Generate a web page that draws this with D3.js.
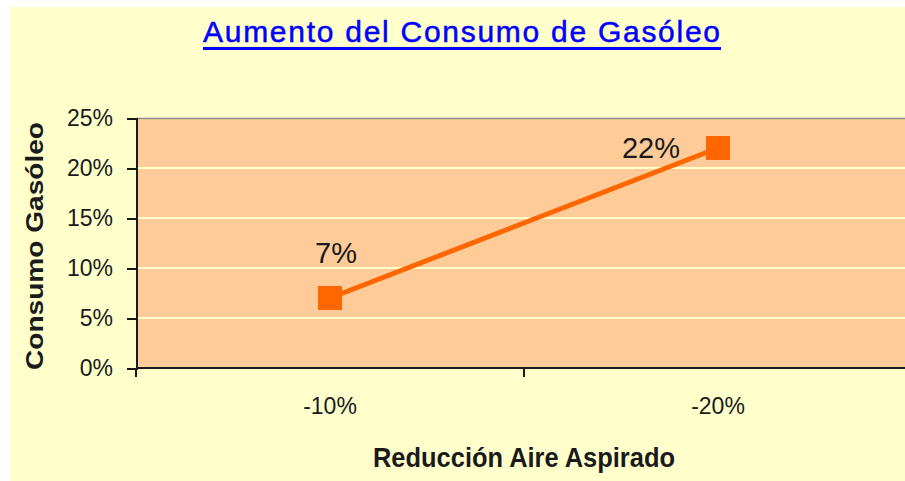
<!DOCTYPE html>
<html lang="es">
<meta charset="utf-8">
<style>
body { margin: 0; background: #fff; }
text { font-family: "Liberation Sans", Arial, sans-serif; fill: #1a1a1a; }
.axis path, .axis line { stroke: #1a1a1a; stroke-width: 2; shape-rendering: crispEdges; }
</style>
<body>
<script src="https://d3js.org/d3.v7.min.js"></script>
<script>
// Data
var categories = ["-10%", "-20%"];
var consumo = [0.07, 0.22];
var yTicks = [0, 0.05, 0.10, 0.15, 0.20, 0.25];
var title = "Aumento del Consumo de Gasóleo";
var xTitle = "Reducción Aire Aspirado";
var yTitle = "Consumo Gasóleo";

var w = 905, h = 481;
var plotLeft = 136, plotTop = 118, plotBottom = 368;

var svg = d3.select("body").append("svg")
  .attr("width", w).attr("height", h);

// chart background
svg.append("rect")
  .attr("x", 10).attr("y", 7)
  .attr("width", w - 10).attr("height", h - 7)
  .attr("fill", "#FFFFCC");

var xScale = d3.scaleBand()
  .domain(categories)
  .range([plotLeft, plotLeft + 776]);

var yScale = d3.scaleLinear()
  .domain([0, 0.25])
  .range([plotBottom, plotTop]);

// plot area
svg.append("rect")
  .attr("x", plotLeft).attr("y", plotTop)
  .attr("width", w - plotLeft).attr("height", plotBottom - plotTop)
  .attr("fill", "#FFCC99");

svg.append("line")
  .attr("x1", plotLeft).attr("x2", w)
  .attr("y1", plotTop + 0.5).attr("y2", plotTop + 0.5)
  .attr("stroke", "#8c8c8c").attr("stroke-width", 1.5);

// gridlines
svg.append("g").selectAll("line")
  .data(yTicks.slice(1, -1))
  .enter().append("line")
  .attr("x1", plotLeft).attr("x2", w)
  .attr("y1", function(d) { return yScale(d); })
  .attr("y2", function(d) { return yScale(d); })
  .attr("stroke", "#FFFFCC")
  .attr("stroke-width", 2);

// y axis
var yAxis = svg.append("g")
  .attr("class", "axis")
  .attr("transform", "translate(" + plotLeft + ",0)")
  .call(d3.axisLeft(yScale)
    .tickValues(yTicks)
    .tickSize(9)
    .tickPadding(14)
    .tickFormat(d3.format(".0%")));
yAxis.selectAll("text")
  .style("font-size", "23px")
  .style("font-family", "'Liberation Sans', Arial, sans-serif")
  .attr("fill", "#1a1a1a");

// x axis
var xAxis = svg.append("g")
  .attr("class", "axis")
  .attr("transform", "translate(0," + plotBottom + ")")
  .call(d3.axisBottom(xScale).tickSize(0).tickPadding(30));
xAxis.selectAll("text")
  .style("font-size", "23px")
  .style("font-family", "'Liberation Sans', Arial, sans-serif")
  .attr("fill", "#1a1a1a");
xAxis.select(".domain").attr("d", "M" + plotLeft + ",0H" + w);

// ticks on category boundaries
xAxis.selectAll(".bound")
  .data(categories)
  .enter().append("line")
  .attr("class", "bound")
  .attr("x1", function(d) { return xScale(d) + xScale.bandwidth(); })
  .attr("x2", function(d) { return xScale(d) + xScale.bandwidth(); })
  .attr("y1", 0).attr("y2", 9);
xAxis.append("line")
  .attr("x1", plotLeft).attr("x2", plotLeft)
  .attr("y1", 0).attr("y2", 9);

// line
var line = d3.line()
  .x(function(d, i) { return xScale(categories[i]) + xScale.bandwidth() / 2; })
  .y(function(d) { return yScale(d); });

svg.append("path")
  .datum(consumo)
  .attr("d", line)
  .attr("fill", "none")
  .attr("stroke", "#FF6600")
  .attr("stroke-width", 5);

// markers
var ms = 24;
svg.append("g").selectAll("rect")
  .data(consumo)
  .enter().append("rect")
  .attr("x", function(d, i) { return xScale(categories[i]) + xScale.bandwidth() / 2 - ms / 2; })
  .attr("y", function(d) { return yScale(d) - ms / 2; })
  .attr("width", ms).attr("height", ms)
  .attr("fill", "#FF6600");

// data labels: first above the point, last to its left
svg.append("g").selectAll("text")
  .data(consumo)
  .enter().append("text")
  .attr("x", function(d, i) {
    var cx = xScale(categories[i]) + xScale.bandwidth() / 2;
    return i === 0 ? cx + 6 : cx - 38;
  })
  .attr("y", function(d, i) { return yScale(d) + (i === 0 ? -35 : 10); })
  .attr("text-anchor", function(d, i) { return i === 0 ? "middle" : "end"; })
  .style("font-size", "29px")
  .text(function(d) { return d3.format(".0%")(d); });

// title
svg.append("text")
  .attr("x", 203).attr("y", 42)
  .attr("textLength", 517)
  .attr("lengthAdjust", "spacing")
  .style("font-size", "30px")
  .style("fill", "#0000FF")
  .style("stroke", "#0000FF")
  .style("stroke-width", 0.5)
  .text(title);
svg.append("rect")
  .attr("x", 203).attr("y", 47)
  .attr("width", 518).attr("height", 3)
  .attr("fill", "#0000FF");

// axis titles
svg.append("text")
  .attr("x", 373).attr("y", 467)
  .attr("textLength", 302)
  .attr("lengthAdjust", "spacingAndGlyphs")
  .style("font-size", "28px")
  .style("font-weight", "bold")
  .text(xTitle);

svg.append("text")
  .attr("transform", "translate(43,370) rotate(-90)")
  .attr("textLength", 248)
  .attr("lengthAdjust", "spacingAndGlyphs")
  .style("font-size", "24px")
  .style("font-weight", "bold")
  .text(yTitle);
</script>
</body>
</html>
